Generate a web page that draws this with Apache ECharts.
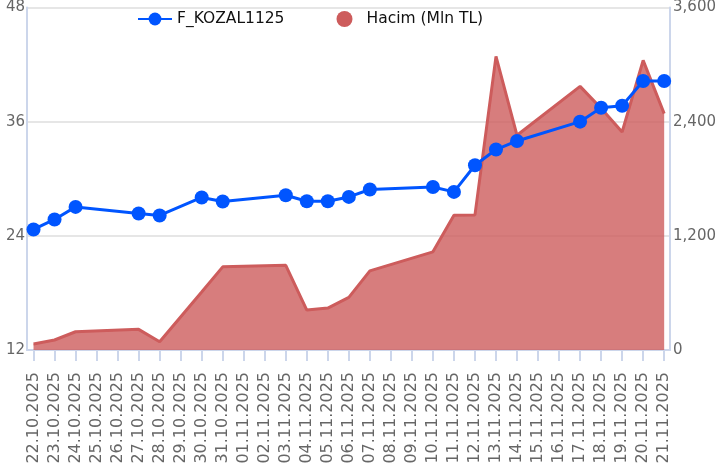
<!DOCTYPE html>
<html>
<head>
<meta charset="utf-8">
<script src="https://cdn.jsdelivr.net/npm/echarts@6/dist/echarts.min.js"></script>
<style>
  html, body { margin: 0; padding: 0; background: #fff; }
  #chart { width: 719px; height: 472px; }
</style>
</head>
<body>
<div id="chart"></div>
<script>
// tarihler (x ekseni)
var dates = ['22.10.2025', '23.10.2025', '24.10.2025', '25.10.2025', '26.10.2025', '27.10.2025',
  '28.10.2025', '29.10.2025', '30.10.2025', '31.10.2025', '01.11.2025', '02.11.2025', '03.11.2025',
  '04.11.2025', '05.11.2025', '06.11.2025', '07.11.2025', '08.11.2025', '09.11.2025', '10.11.2025',
  '11.11.2025', '12.11.2025', '13.11.2025', '14.11.2025', '15.11.2025', '16.11.2025', '17.11.2025',
  '18.11.2025', '19.11.2025', '20.11.2025', '21.11.2025']
// fiyat (sol eksen)
var price = [24.67, 25.72, 27.04, null, null, 26.35, 26.14, null, 28.03, 27.61, null, null, 28.27,
  27.64, 27.64, 28.09, 28.87, null, null, 29.14, 28.62, 31.42, 33.07, 33.97, null, null, 36.0,
  37.47, 37.68, 40.27, 40.27]
// hacim (sag eksen)
var volume = [63, 105, 192, null, null, 217, 87, null, 610, 874, null, null, 890,
  420, 441, 553, 832, null, null, 1032, 1417, 1420, 3086, 2257, null, null, 2771,
  2540, 2291, 3044, 2484]
var priceTicks = [12, 48, 12]
var volumeTicks = [0, 3600, 1200]
var seriesNames = ['F_KOZAL1125', 'Hacim (Mln TL)']

function toPairs (arr) {
  var out = []
  for (var i = 0; i < arr.length; i++) {
    if (arr[i] !== null) out.push([i, arr[i]])
  }
  return out
}
var idx = dates.map(function (d, i) { return i })

var axisColor = '#ccd6eb'
var labelColor = '#666666'
var font = 'DejaVu Sans'

var option = {
  animation: false,
  textStyle: { fontFamily: font },
  legend: {
    left: 132,
    top: 6,
    itemWidth: 34,
    itemHeight: 16,
    itemGap: 52,
    textStyle: { color: '#111', fontSize: 15.5, fontFamily: font },
    data: [
      { name: seriesNames[0] },
      { name: seriesNames[1], icon: 'circle' }
    ]
  },
  grid: { left: 27, right: 46, top: 7, bottom: 122 },
  xAxis: {
    type: 'value',
    min: -0.31,
    max: 30.28,
    splitLine: { show: false },
    axisLine: { show: true, onZero: false, lineStyle: { color: axisColor, width: 2 } },
    axisTick: { show: true, length: 11, customValues: idx, lineStyle: { color: axisColor, width: 2 } },
    axisLabel: {
      customValues: idx,
      rotate: 90,
      margin: 22,
      color: labelColor,
      fontSize: 16,
      fontFamily: font,
      formatter: function (v) { return dates[Math.round(v)] }
    }
  },
  yAxis: [{
    type: 'value',
    min: priceTicks[0],
    max: priceTicks[1],
    interval: priceTicks[2],
    axisLine: { show: true, onZero: false, lineStyle: { color: axisColor, width: 2 } },
    axisTick: { show: false },
    splitLine: { show: true, lineStyle: { color: '#e6e6e6', width: 2 } },
    axisLabel: { color: labelColor, fontSize: 15, fontFamily: font, margin: 2 }
  }, {
    type: 'value',
    min: volumeTicks[0],
    max: volumeTicks[1],
    interval: volumeTicks[2],
    axisLine: { show: true, onZero: false, lineStyle: { color: axisColor, width: 2 } },
    axisTick: { show: false },
    splitLine: { show: false },
    axisLabel: {
      color: labelColor,
      fontSize: 15,
      fontFamily: font,
      margin: 3,
      formatter: function (v) { return v.toLocaleString('en-US') }
    }
  }],
  series: [{
    name: seriesNames[1],
    type: 'line',
    yAxisIndex: 1,
    data: toPairs(volume),
    showSymbol: false,
    symbol: 'none',
    z: 1,
    itemStyle: { color: '#cd5c5c' },
    lineStyle: { color: '#cd5c5c', width: 3 },
    areaStyle: { color: '#cd5c5c', opacity: 0.8 }
  }, {
    name: seriesNames[0],
    type: 'line',
    yAxisIndex: 0,
    data: toPairs(price),
    symbol: 'circle',
    symbolSize: 14,
    z: 3,
    itemStyle: { color: '#0055ff' },
    lineStyle: { color: '#0055ff', width: 3 }
  }]
}

var chart = echarts.init(document.getElementById('chart'))
chart.setOption(option)
</script>
</body>
</html>
